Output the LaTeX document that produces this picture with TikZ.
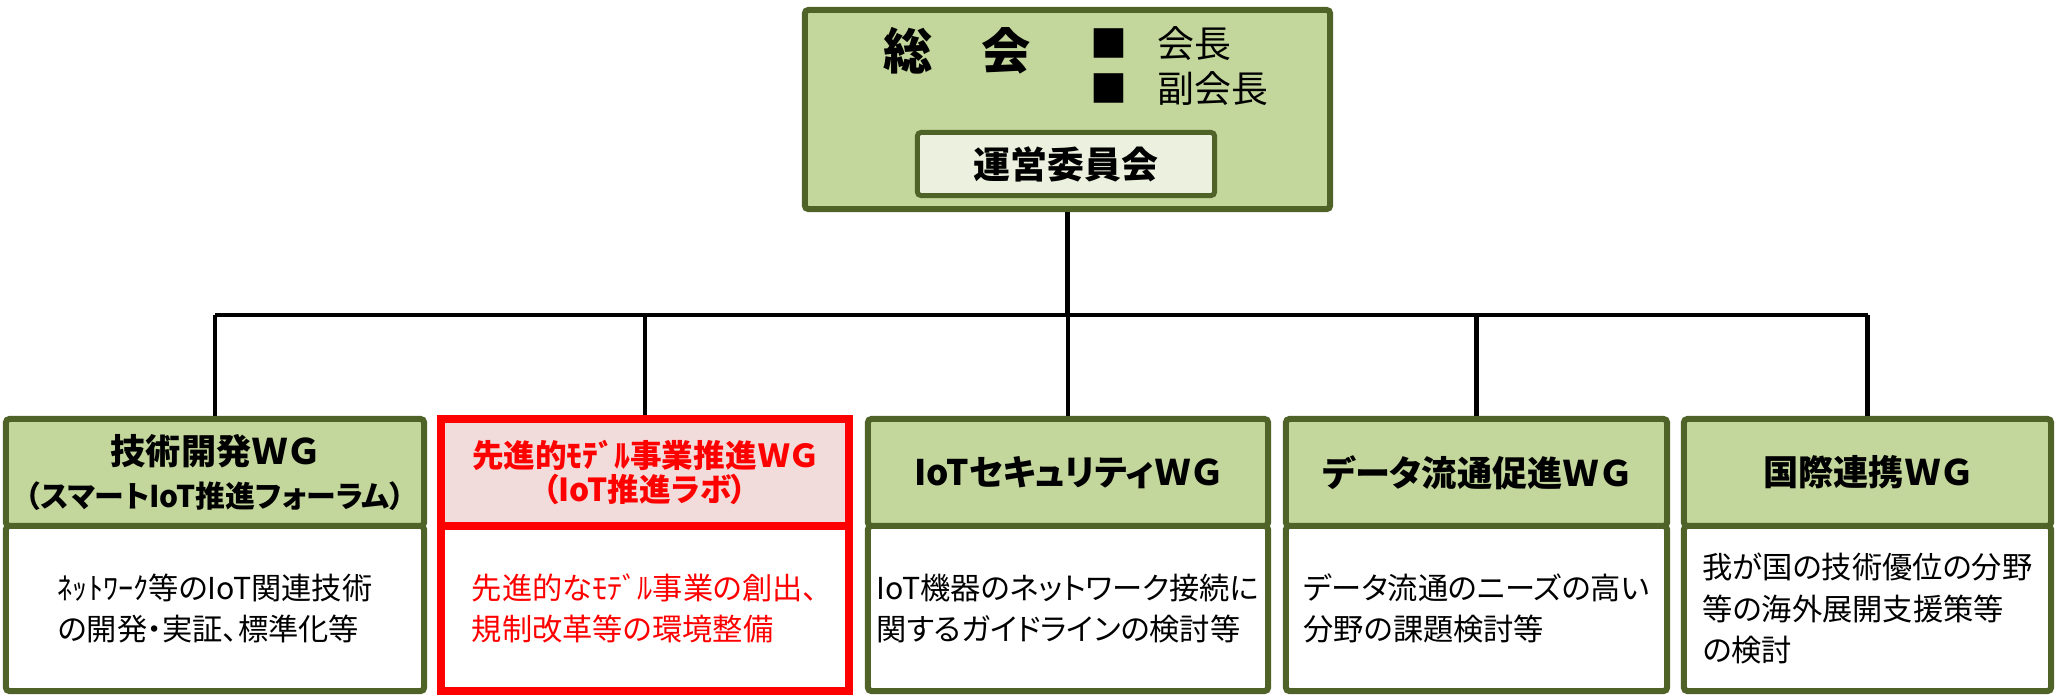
\documentclass[tikz,border=0pt]{standalone}
\usepackage{fontspec}
\setmainfont{Noto Sans CJK JP}[RawFeature=+palt]
\definecolor{olivefill}{RGB}{195,214,155}
\definecolor{olivedark}{RGB}{79,98,40}
\definecolor{palefill}{RGB}{235,241,222}
\definecolor{pinkfill}{RGB}{242,220,219}
\definecolor{redline}{RGB}{255,0,0}
\tikzset{
  gbox/.style={draw=olivedark, line width=0.06cm, rounded corners=1pt, inner sep=0pt},
  hdrbox/.style={gbox, fill=olivefill, align=center, font=\bfseries\fontsize{10pt}{12pt}\selectfont},
  bodybox/.style={gbox, fill=white, align=left, font=\fontsize{8.6pt}{11.8pt}\selectfont},
  redhdr/.style={draw=redline, line width=0.08cm, inner sep=0pt, fill=pinkfill, text=redline, align=center, font=\bfseries\fontsize{9pt}{9.8pt}\selectfont},
  redbody/.style={draw=redline, line width=0.08cm, inner sep=0pt, fill=white, text=redline, align=left, font=\fontsize{8.6pt}{11.8pt}\selectfont},
  conn/.style={draw=black, line width=0.045cm}
}
\begin{document}
\begin{tikzpicture}[x=0.01cm,y=-0.01cm]
\useasboundingbox (0,0) rectangle (2059,699);
% top box
\node[gbox, fill=olivefill, minimum width=5.25cm, minimum height=1.99cm] (top) at (1067.5,109.5) {};
\node[gbox, line width=0.05cm, fill=palefill, minimum width=2.97cm, minimum height=0.63cm,
      font=\bfseries\fontsize{10.5pt}{12pt}\selectfont] (ops) at (1066,164) {運営委員会};
\node[font=\bfseries\fontsize{14pt}{16pt}\selectfont, inner sep=0pt] (soukai) at (957,51) {総　会};
\node[font=\fontsize{10.5pt}{12.8pt}\selectfont, align=left, anchor=west, inner sep=0pt] (roles) at (1090,66) {■\hspace{0.8em}会長\\■\hspace{0.8em}副会長};
% working groups
\node[hdrbox, minimum width=4.18cm, minimum height=1.07cm] (h1) at (215,472.5) {技術開発ＷＧ\\{\fontsize{8.5pt}{12pt}\selectfont（スマートIoT推進フォーラム）}};
\node[bodybox, minimum width=4.18cm, minimum height=1.65cm] (b1) at (215,608.5) {ﾈｯﾄﾜｰｸ等のIoT関連技術\\の開発・実証、標準化等};
\node[redhdr, minimum width=4.08cm, minimum height=1.07cm] (h2) at (645,472.5) {先進的ﾓﾃﾞﾙ事業推進ＷＧ\\（IoT推進ラボ）};
\node[redbody, minimum width=4.08cm, minimum height=1.65cm] (b2) at (645,608.5) {先進的なﾓﾃﾞﾙ事業の創出、\\規制改革等の環境整備};
\node[hdrbox, minimum width=4.00cm, minimum height=1.07cm] (h3) at (1068,472.5) {IoTセキュリティＷＧ};
\node[bodybox, minimum width=4.00cm, minimum height=1.65cm] (b3) at (1068,608.5) {IoT機器のネットワーク接続に\\関するガイドラインの検討等};
\node[hdrbox, minimum width=3.81cm, minimum height=1.07cm] (h4) at (1476.5,472.5) {データ流通促進ＷＧ};
\node[bodybox, minimum width=3.81cm, minimum height=1.65cm] (b4) at (1476.5,608.5) {データ流通のニーズの高い\\分野の課題検討等};
\node[hdrbox, minimum width=3.67cm, minimum height=1.07cm] (h5) at (1867.5,472.5) {国際連携ＷＧ};
\node[bodybox, minimum width=3.67cm, minimum height=1.65cm] (b5) at (1867.5,608.5) {我が国の技術優位の分野\\等の海外展開支援策等\\の検討};
% connectors
\coordinate (bus) at (1068,315);
\coordinate (bus1) at (h1.north |- bus);
\coordinate (bus5) at (h5.north |- bus);
\draw[conn] (top.south) -- (top.south |- bus);
\draw[conn] (bus1) -- (bus5);
\foreach \h in {h1,h2,h3,h4,h5} {
  \draw[conn] (\h.north |- bus) -- (\h.north);
}
\end{tikzpicture}
\end{document}
